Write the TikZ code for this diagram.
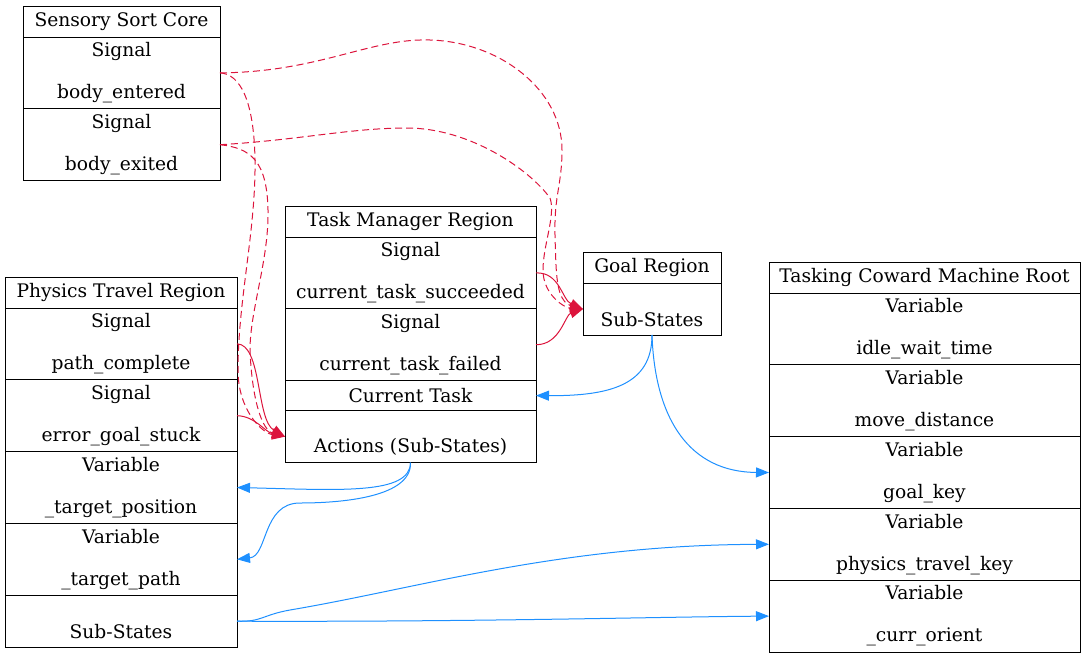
\documentclass[tikz,border=0pt]{standalone}
\usepackage{fontspec}
\setmainfont{DejaVu Serif}
\usetikzlibrary{arrows.meta, positioning}
\definecolor{myred}{RGB}{220, 20, 60}
\definecolor{myblue}{RGB}{30, 144, 255}

\begin{document}
\begin{tikzpicture}[x=1pt, y=-1pt, line width=1pt, >={Triangle[length=13pt,width=10pt]},
	rec/.style={draw, inner sep=0pt, outer sep=0pt, align=center, font=\fontsize{18.67}{21}\selectfont},
	head/.style={rec, minimum height=31pt},
	two/.style={rec, minimum height=71.8pt},
	one/.style={rec, minimum height=30pt},
	sub/.style={rec, minimum height=52pt},
	sig/.style={myred},
	sigd/.style={myred, dash pattern=on 7pt off 4pt},
	var/.style={myblue}]
	\useasboundingbox (0,0) rectangle (1085,659);
	
	\node[head, minimum width=197pt, anchor=north west] (s0) at (23,6) {Sensory Sort Core};
	\node[two, minimum width=197pt, below=0pt of s0] (s1) {Signal\\~\\body\_entered};
	\node[two, minimum width=197pt, below=0pt of s1] (s2) {Signal\\~\\body\_exited};
	
	\node[head, minimum width=232pt, anchor=north west] (p0) at (5,277) {Physics Travel Region};
	\node[two, minimum width=232pt, below=0pt of p0] (p1) {Signal\\~\\path\_complete};
	\node[two, minimum width=232pt, below=0pt of p1] (p2) {Signal\\~\\error\_goal\_stuck};
	\node[two, minimum width=232pt, below=0pt of p2] (p3) {Variable\\~\\\_target\_position};
	\node[two, minimum width=232pt, below=0pt of p3] (p4) {Variable\\~\\\_target\_path};
	\node[sub, minimum width=232pt, below=0pt of p4] (p5) {\vphantom{S}\\Sub-States};
	
	\node[head, minimum width=251pt, anchor=north west] (t0) at (285,206) {Task Manager Region};
	\node[two, minimum width=251pt, below=0pt of t0] (t1) {Signal\\~\\current\_task\_succeeded};
	\node[two, minimum width=251pt, below=0pt of t1] (t2) {Signal\\~\\current\_task\_failed};
	\node[one, minimum width=251pt, below=0pt of t2] (t3) {Current Task};
	\node[sub, minimum width=251pt, below=0pt of t3] (t4) {\vphantom{S}\\Actions (Sub-States)};
	
	\node[head, minimum width=138pt, anchor=north west] (g0) at (583,252) {Goal Region};
	\node[sub, minimum width=138pt, below=0pt of g0] (g1) {\vphantom{S}\\Sub-States};
	
	\node[head, minimum width=311pt, anchor=north west] (m0) at (769,262) {Tasking Coward Machine Root};
	\node[two, minimum width=311pt, below=0pt of m0] (m1) {Variable\\~\\idle\_wait\_time};
	\node[two, minimum width=311pt, below=0pt of m1] (m2) {Variable\\~\\move\_distance};
	\node[two, minimum width=311pt, below=0pt of m2] (m3) {Variable\\~\\goal\_key};
	\node[two, minimum width=311pt, below=0pt of m3] (m4) {Variable\\~\\physics\_travel\_key};
	\node[two, minimum width=311pt, below=0pt of m4] (m5) {Variable\\~\\\_curr\_orient};
	
	\draw[->,sigd] (s1.east) .. controls (320,72) and (370,38) .. (430,40)
		.. controls (500,42) and (562,90) .. (562,150)
		.. controls (562,185) and (554,195) .. (555,235)
		.. controls (556,270) and (556,292) .. (565,302)
		.. controls (570,306) and (576,308) .. (g1.west);
	\draw[->,sigd] (s2.east) .. controls (300,140) and (350,128) .. (407,128)
		.. controls (470,128) and (530,170) .. (550,198)
		.. controls (556,215) and (543,245) .. (543,270)
		.. controls (543,295) and (565,308) .. (g1.west);
	\draw[->,sigd] (s1.east) .. controls (240,74) and (254,100) .. (255,160)
		.. controls (256,230) and (238,300) .. (238,370)
		.. controls (238,410) and (262,433) .. (t4.west);
	\draw[->,sigd] (s2.east) .. controls (250,148) and (267,160) .. (268,210)
		.. controls (269,260) and (250,310) .. (250,350)
		.. controls (252,400) and (262,430) .. (t4.west);
	
	\draw[->,sig] (t1.east) .. controls (560,272) and (562,300) .. (g1.west);
	\draw[->,sig] (t2.east) .. controls (560,345) and (565,315) .. (g1.west);
	\draw[->,sig] (p1.east) .. controls (262,344) and (256,420) .. (t4.west);
	\draw[->,sig] (p2.east) .. controls (255,416) and (265,432) .. (t4.west);
	
	\draw[->,var] (g1.south) .. controls (652,385) and (610,396) .. (t3.east);
	\draw[->,var] (g1.south) .. controls (655,420) and (690,472) .. (m3.west);
	\draw[->,var] (t4.south) .. controls (410,495) and (340,490) .. (p3.east);
	\draw[->,var] (t4.south) .. controls (412,500) and (330,503) .. (300,503)
		.. controls (262,503) and (268,556) .. (p4.east);
	\draw[->,var] (p5.east) .. controls (262,622) and (262,615) .. (290,610)
		.. controls (420,588) and (560,545) .. (m4.west);
	\draw[->,var] (p5.east) .. controls (480,622) and (650,617) .. (m5.west);
	
\end{tikzpicture}
\end{document}
